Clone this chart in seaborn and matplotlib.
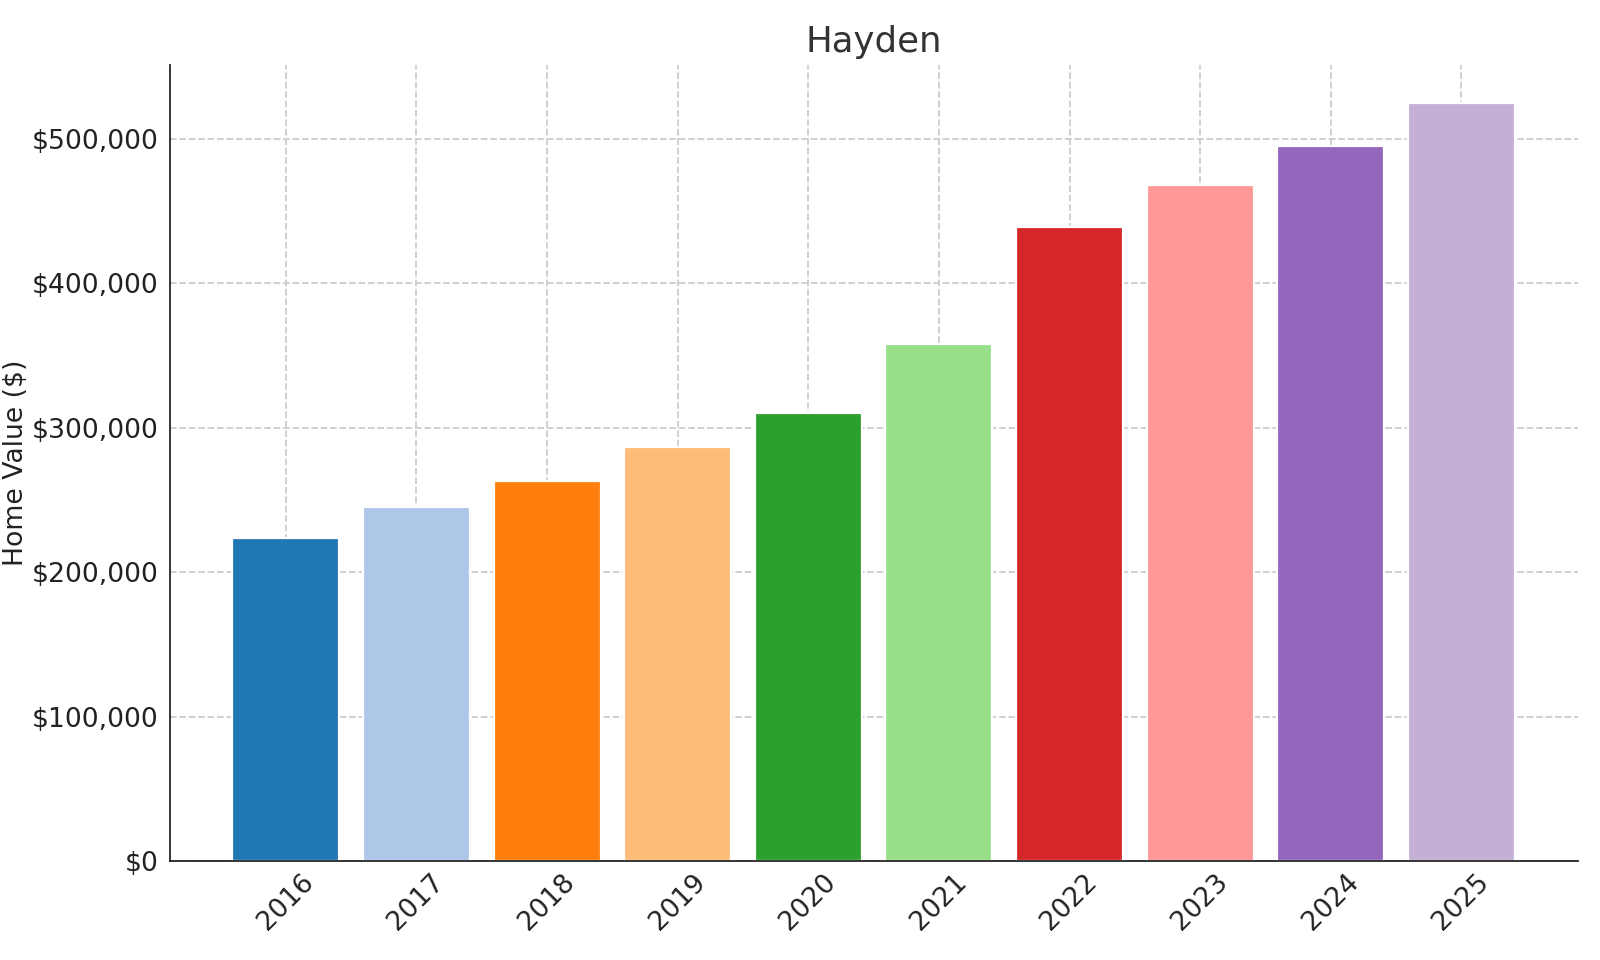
import matplotlib
matplotlib.use("Agg")
import matplotlib.pyplot as plt
import seaborn as sns
import pandas as pd

years = ["2016", "2017", "2018", "2019", "2020", "2021", "2022", "2023", "2024", "2025"]
home_values = [224000, 245000, 263000, 287000, 310000, 358000, 439000, 468000, 495000, 525000]

df = pd.DataFrame({"year": years, "value": home_values})
colors = sns.color_palette("tab20", 10)

sns.set_style("white")
plt.rcParams["font.family"] = ["DejaVu Sans"]
plt.rcParams["text.color"] = "#333333"

fig, ax = plt.subplots(figsize=(10, 6), dpi=160)
fig.subplots_adjust(left=0.106, right=0.986, top=0.932, bottom=0.103)

sns.barplot(data=df, x="year", y="value", hue="year", palette=colors,
            legend=False, width=0.82, saturation=1, ax=ax)

# seaborn pins the categorical limits to +-0.5, restore matplotlib-style margins
ax.set_xlim(-0.89, 9.89)
ax.set_ylim(0, 551000)
ax.grid(True, linestyle="--", color="#cccccc", linewidth=0.8)
for p in ax.patches:
    p.set_zorder(1)
for gl in ax.get_xgridlines() + ax.get_ygridlines():
    gl.set_zorder(2)

ax.yaxis.set_major_formatter(matplotlib.ticker.FuncFormatter(lambda v, _: f"${v:,.0f}"))
ax.set_title("Hayden", fontsize=16, color="#333333")
ax.set_xlabel("")
ax.set_ylabel("Home Value ($)", fontsize=12, color="#222222")
ax.yaxis.set_label_coords(-0.1, 0.5)
ax.tick_params(axis="both", labelsize=12, colors="#222222", length=4)
ax.tick_params(axis="y", pad=1)
ax.tick_params(axis="x", labelrotation=45, direction="in")
sns.despine(ax=ax)
for s in ["left", "bottom"]:
    ax.spines[s].set_color("#222222")
    ax.spines[s].set_zorder(3)

fig.savefig("out.png", dpi=160)
